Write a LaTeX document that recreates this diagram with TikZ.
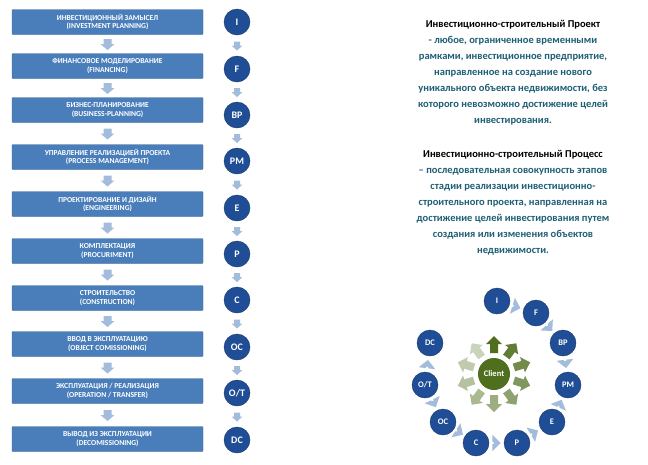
\documentclass[tikz,border=0pt]{standalone}
\usepackage{fontspec}
\setmainfont{Carlito}
\usetikzlibrary{calc,shapes.arrows}
\begin{document}
\begin{tikzpicture}[x=1pt,y=-1pt,
  stagebox/.style={fill=boxblue,draw=boxblue!80!black,rounded corners=1pt,minimum width=191pt,minimum height=25pt,align=center,text=white,font=\bfseries\fontsize{7.6}{8.6}\selectfont,inner sep=0pt},
  stagec/.style={circle,fill=cblue,draw=cblue!70!black,minimum size=26pt,inner sep=0pt,text=white,font=\bfseries\fontsize{10}{11}\selectfont},
  ringc/.style={circle,fill=cblue,draw=cblue!70!black,minimum size=26pt,inner sep=0pt,text=white,font=\bfseries\fontsize{8.5}{9}\selectfont},
  txt/.style={align=center,font=\bfseries\fontsize{10.5}{16}\selectfont,text=tealc}]
\definecolor{boxblue}{HTML}{4A7EBB}
\definecolor{cblue}{HTML}{1F4E96}
\definecolor{arrblue}{HTML}{A3BCDB}
\definecolor{tealc}{HTML}{1F5F75}
\definecolor{gdark}{HTML}{4F6E1E}
\useasboundingbox (0,0) rectangle (648,464);
\fill[white] (0,0) rectangle (648,464);
\foreach \i/\y/\t in {1/22/{ИНВЕСТИЦИОННЫЙ ЗАМЫСЕЛ\\(INVESTMENT  PLANNING)},2/66/{ФИНАНСОВОЕ МОДЕЛИРОВАНИЕ\\(FINANCING)},3/110/{БИЗНЕС-ПЛАНИРОВАНИЕ\\(BUSINESS-PLANNING)},4/157/{УПРАВЛЕНИЕ  РЕАЛИЗАЦИЕЙ ПРОЕКТА\\(PROCESS MANAGEMENT)},5/204/{ПРОЕКТИРОВАНИЕ И ДИЗАЙН\\(ENGINEERING)},6/251/{КОМПЛЕКТАЦИЯ\\(PROCURIMENT)},7/298/{СТРОИТЕЛЬСТВО\\(CONSTRUCTION)},8/344/{ВВОД В ЭКСПЛУАТАЦИЮ\\(OBJECT COMISSIONING)},9/391/{ЭКСПЛУАТАЦИЯ /  РЕАЛИЗАЦИЯ\\(OPERATION / TRANSFER)},10/439/{ВЫВОД ИЗ ЭКСПЛУАТАЦИИ\\(DECOMISSIONING)}}
  \node[stagebox] (b\i) at (107.5,\y) {\t};
\foreach \i/\y/\t in {1/22/I,2/69/F,3/115/BP,4/161/PM,5/208/E,6/254/P,7/300/C,8/347/OC,9/393/{O/T},10/440/DC}
  \node[stagec] (c\i) at (237,\y) {\t};
\foreach \i [evaluate=\i as \j using int(\i+1)] in {1,...,9}{
  \fill[arrblue] ($(b\i.south)!0.5!(b\j.north)+(-4,-5)$) -- ++(8,0) -- ++(0,5) -- ++(3,0) -- ++(-7,6) -- ++(-7,-6) -- ++(3,0) -- cycle;
  \fill[arrblue] ($(c\i.south)!0.5!(c\j.north)+(-3,-4)$) -- ++(6,0) -- ++(0,4) -- ++(2.5,0) -- ++(-5.5,5) -- ++(-5.5,-5) -- ++(2.5,0) -- cycle;
}
\node[txt,anchor=north] (t1) at (513,17) {\textcolor{black}{Инвестиционно-строительный Проект}\\- любое, ограниченное временными\\рамками, инвестиционное предприятие,\\направленное на создание нового\\уникального объекта недвижимости, без\\которого невозможно достижение целей\\инвестирования.};
\node[txt,anchor=north] (t2) at (513,147) {\textcolor{black}{Инвестиционно-строительный Процесс}\\– последовательная совокупность этапов\\стадии реализации инвестиционно-\\строительного проекта, направленная на\\достижение целей инвестирования путем\\создания или изменения объектов\\недвижимости.};
\node[circle,fill=gdark,minimum size=32pt,inner sep=0pt,text=white,font=\bfseries\fontsize{8.5}{9}\selectfont] (cl) at (494,374) {Client};
\foreach \i/\x/\y/\t in {1/497/301/I,2/536/313/F,3/563/343/BP,4/568/385/PM,5/552/422/E,6/517/443/P,7/476/443/C,8/443/422/OC,9/425/385/{O/T},10/430/343/DC}
  \node[ringc] (r\i) at (\x,\y) {\t};
\foreach \i [evaluate=\i as \j using int(\i+1)] in {1,...,9}
  \path (r\i) -- (r\j) node[pos=0.5,sloped,fill=arrblue,single arrow,minimum height=7pt,minimum width=7pt,inner sep=1pt] {};
\foreach \a/\k in {90/100,54/90,18/80,-18/72,-54/64,-90/56,-126/48,-162/42,162/36,126/30}{
  \begin{scope}[shift={(cl)},rotate=\a]
  \fill[gdark!\k!white] (21,-4) -- (30,-4) -- (30,-8) -- (38,0) -- (30,8) -- (30,4) -- (21,4) -- cycle;
  \end{scope}}
\end{tikzpicture}
\end{document}
